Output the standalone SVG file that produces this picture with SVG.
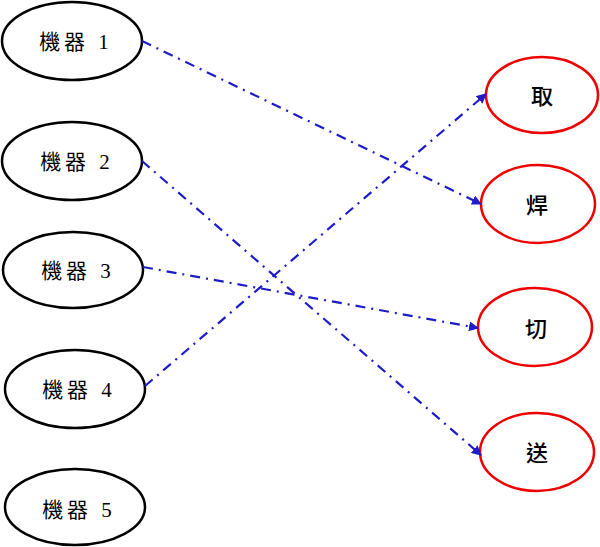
<svg xmlns="http://www.w3.org/2000/svg" width="600" height="547" viewBox="0 0 600 547">
<style>
.m{fill:#fff;stroke:#000;stroke-width:2.5}
.a{fill:#fff;stroke:#e00;stroke-width:2.5}
.t{font-family:"Liberation Serif","Noto Sans CJK TC",serif;font-size:21px;text-anchor:middle;dominant-baseline:central;fill:#000}
.l{letter-spacing:4px}
.r{font-size:22px;font-weight:500}
.e{stroke:#1c1cc8;stroke-width:2.2;fill:none;stroke-dasharray:10 6 2 6;marker-end:url(#ah)}
</style>
<defs>
<marker id="ah" viewBox="0 0 10 10" refX="9" refY="5" markerWidth="10" markerHeight="10" markerUnits="userSpaceOnUse" orient="auto">
<path d="M0,0 L10,5 L0,10 Z" fill="#1c1cc8"/>
</marker>
</defs>
<rect width="600" height="547" fill="#fff"/>
<g id="m1"><ellipse class="m" cx="72" cy="41" rx="70" ry="39"/><text class="t l" x="76" y="42">機器 1</text></g>
<g id="m2"><ellipse class="m" cx="72" cy="161" rx="70" ry="39"/><text class="t l" x="77" y="162">機器 2</text></g>
<g id="m3"><ellipse class="m" cx="73" cy="270" rx="70" ry="38"/><text class="t l" x="78" y="271">機器 3</text></g>
<g id="m4"><ellipse class="m" cx="75" cy="389" rx="70" ry="39"/><text class="t l" x="79" y="390">機器 4</text></g>
<g id="m5"><ellipse class="m" cx="75" cy="507" rx="70" ry="38"/><text class="t l" x="79" y="510">機器 5</text></g>
<g id="take"><ellipse class="a" cx="542" cy="95" rx="56" ry="38"/><text class="t r" x="542" y="96">取</text></g>
<g id="weld"><ellipse class="a" cx="538" cy="204" rx="57" ry="39"/><text class="t r" x="537" y="205">焊</text></g>
<g id="cut"><ellipse class="a" cx="535" cy="327" rx="57" ry="39"/><text class="t r" x="536" y="329">切</text></g>
<g id="send"><ellipse class="a" cx="537" cy="452" rx="57" ry="39"/><text class="t r" x="537" y="453">送</text></g>
<g id="edges">
<path class="e" d="M142,41 L481,204"/>
<path class="e" d="M142,161 L481,455"/>
<path class="e" d="M143,267 L478,328"/>
<path class="e" d="M145,386 L486,94"/>
</g>
</svg>
